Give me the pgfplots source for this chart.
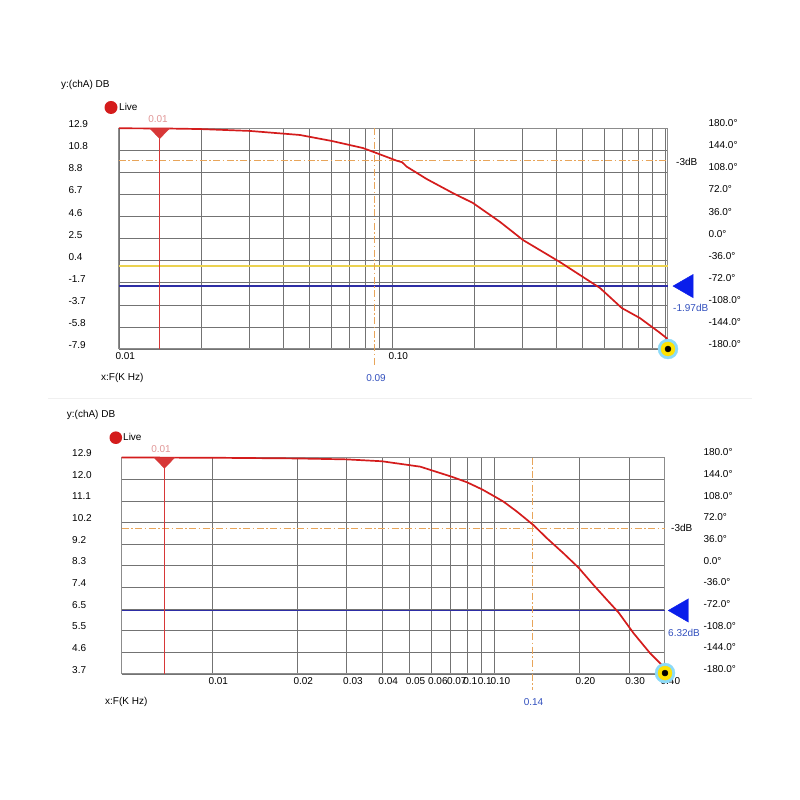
\documentclass[border=0pt]{standalone}
\usepackage{fontspec}
\setmainfont{Liberation Sans}
\usepackage{pgfplots}
\pgfplotsset{compat=1.18}
\definecolor{curvered}{RGB}{212,28,28}
\definecolor{markred}{RGB}{215,55,55}
\definecolor{dashorange}{RGB}{232,165,90}
\definecolor{lineyellow}{RGB}{235,210,80}
\definecolor{lineblue}{RGB}{45,45,165}
\definecolor{triblue}{RGB}{10,30,235}
\definecolor{textblue}{RGB}{50,80,190}
\definecolor{pinklab}{RGB}{225,150,150}
\definecolor{gridgray}{RGB}{115,115,115}
\newcommand\lbl{\fontsize{10}{12}\selectfont}
\begin{document}
\begin{tikzpicture}[font=\lbl]
\useasboundingbox (0pt,0pt) rectangle (800pt,800pt);
\fill[white] (0pt,0pt) rectangle (800pt,800pt);
\draw[black!6, line width=1pt] (48pt,401pt) -- (752pt,401pt);

% ---------------- TOP CHART ----------------
\begin{axis}[xmode=log, scale only axis, clip=false,
  at={(119pt,451pt)}, anchor=south west, width=549pt, height=220.7pt,
  grid=both, major grid style={gridgray, line width=0.6pt},
  minor grid style={gridgray, line width=0.6pt},
  major tick length=0pt, minor tick length=0pt,
  axis line style={draw=black!45, line width=1pt},
  tick label style={font=\lbl},
  xticklabel style={anchor=north west, xshift=-7pt},
  xmin=0.01, xmax=1.026, ymin=-7.9, ymax=12.9,
  xtick={0.01,0.1}, xticklabels={0.01,0.10},
  minor xtick={0.02,0.03,0.04,0.05,0.06,0.07,0.08,0.09,0.2,0.3,0.4,0.5,0.6,0.7,0.8,0.9,1},
  ytick={-7.9,-5.82,-3.74,-1.66,0.42,2.5,4.58,6.66,8.74,10.82,12.9},
  yticklabels={-7.9,-5.8,-3.7,-1.7,0.4,2.5,4.6,6.7,8.8,10.8,12.9},
  yticklabel style={anchor=west, xshift=-54pt, yshift=4pt},
]
\addplot[lineyellow, line width=1.6pt] coordinates {(0.01,-0.07) (1.026,-0.07)};
\addplot[lineblue, line width=1.2pt] coordinates {(0.01,-1.97) (1.026,-1.97)};
\addplot[dashorange, line width=0.9pt, dash pattern=on 7pt off 2.5pt on 1.5pt off 2.5pt] coordinates {(0.01,9.9) (1.026,9.9)};
\addplot[dashorange, line width=0.9pt, dash pattern=on 7pt off 2.5pt on 1.5pt off 2.5pt] coordinates {(0.0859,12.9) (0.0859,-9.4)};
\addplot[markred, line width=1pt] coordinates {(0.0141,12.9) (0.0141,-7.9)};
\addplot[curvered, line width=1.7pt] coordinates {
(0.01,12.9) (0.015,12.88) (0.0198,12.83) (0.0302,12.65) (0.046,12.27) (0.0603,11.70)
(0.0783,11.04) (0.0881,10.55) (0.104,9.85) (0.109,9.7) (0.113,9.3) (0.134,8.12) (0.167,6.80)
(0.198,5.86) (0.249,4.07) (0.302,2.37) (0.412,0.30) (0.578,-2.15) (0.695,-4.04)
(0.809,-4.98) (0.95,-6.3) (1.017,-6.9) (1.026,-7.6)};
\addplot[only marks, mark=triangle*, color=markred, mark size=11.5pt, mark options={yscale=0.6, rotate=180}] coordinates {(0.0141,12.575)};
\addplot[only marks, mark=triangle*, color=triblue, mark size=13.5pt, mark options={rotate=90}] coordinates {(1.199,-1.97)};
\addplot[only marks, mark=*, mark size=10pt, color=cyan!45] coordinates {(1.026,-7.9)};
\addplot[only marks, mark=*, mark size=7pt, color=yellow!85!orange] coordinates {(1.026,-7.9)};
\addplot[only marks, mark=*, mark size=3pt, color=black] coordinates {(1.026,-7.9)};
\end{axis}
\begin{axis}[xmode=log, scale only axis, at={(119pt,451pt)}, anchor=south west, width=549pt, height=220.7pt,
  xmin=0.01, xmax=1.026, ymin=-180, ymax=180,
  axis x line=none, axis y line*=right, axis line style={draw=none},
  ytick={-180,-144,-108,-72,-36,0,36,72,108,144,180},
  yticklabels={-180.0°,-144.0°,-108.0°,-72.0°,-36.0°,0.0°,36.0°,72.0°,108.0°,144.0°,180.0°},
  major tick length=0pt, tick label style={font=\lbl},
  yticklabel style={anchor=west, xshift=37pt, yshift=5pt}]
\addplot[draw=none] coordinates {(0.1,0)};
\end{axis}

% ---------------- BOTTOM CHART ----------------
\begin{axis}[xmode=log, scale only axis, clip=false,
  at={(121.7pt,126pt)}, anchor=south west, width=543.3pt, height=216.5pt,
  grid=both, major grid style={gridgray, line width=0.6pt},
  minor grid style={gridgray, line width=0.6pt},
  major tick length=0pt, minor tick length=0pt,
  axis line style={draw=black!45, line width=1pt},
  tick label style={font=\lbl},
  xticklabel style={anchor=north west, xshift=-7pt},
  xmin=0.004783, xmax=0.403, ymin=3.7, ymax=12.9,
  xtick={0.01,0.02,0.03,0.04,0.05,0.06,0.07,0.08,0.09,0.1,0.2,0.3,0.4},
  xticklabels={0.01,0.02,0.03,0.04,0.05,0.06,0.07,0.1,0.1,0.10,0.20,0.30,0.40},
  minor xtick={},
  ytick={3.7,4.62,5.54,6.46,7.38,8.3,9.22,10.14,11.06,11.98,12.9},
  yticklabels={3.7,4.6,5.5,6.5,7.4,8.3,9.2,10.2,11.1,12.0,12.9},
  yticklabel style={anchor=west, xshift=-53pt, yshift=4.4pt},
]
\addplot[lineblue, line width=1.4pt] coordinates {(0.004783,6.40) (0.403,6.40)};
\addplot[dashorange, line width=0.9pt, dash pattern=on 7pt off 2.5pt on 1.5pt off 2.5pt] coordinates {(0.004783,9.9) (0.403,9.9)};
\addplot[dashorange, line width=0.9pt, dash pattern=on 7pt off 2.5pt on 1.5pt off 2.5pt] coordinates {(0.1364,12.9) (0.1364,3.0)};
\addplot[markred, line width=1pt] coordinates {(0.00678,12.9) (0.00678,3.7)};
\addplot[curvered, line width=1.7pt] coordinates {
(0.004783,12.9) (0.01,12.89) (0.02,12.86) (0.03,12.82) (0.04,12.74) (0.0547,12.51)
(0.0708,12.08) (0.080,11.85) (0.0904,11.55) (0.1008,11.23) (0.108,11.02) (0.1204,10.60)
(0.1377,10.03) (0.1537,9.47) (0.176,8.83) (0.199,8.22) (0.225,7.48) (0.251,6.85)
(0.276,6.31) (0.312,5.43) (0.357,4.58) (0.393,4.08) (0.403,3.8)};
\addplot[only marks, mark=triangle*, color=markred, mark size=12pt, mark options={yscale=0.6, rotate=180}] coordinates {(0.00678,12.747)};
\addplot[only marks, mark=triangle*, color=triblue, mark size=13.5pt, mark options={rotate=90}] coordinates {(0.462,6.40)};
\addplot[only marks, mark=*, mark size=10pt, color=cyan!45] coordinates {(0.403,3.74)};
\addplot[only marks, mark=*, mark size=7pt, color=yellow!85!orange] coordinates {(0.403,3.74)};
\addplot[only marks, mark=*, mark size=3pt, color=black] coordinates {(0.403,3.74)};
\end{axis}
\begin{axis}[xmode=log, scale only axis, at={(121.7pt,126pt)}, anchor=south west, width=543.3pt, height=216.5pt,
  xmin=0.004783, xmax=0.403, ymin=-180, ymax=180,
  axis x line=none, axis y line*=right, axis line style={draw=none},
  ytick={-180,-144,-108,-72,-36,0,36,72,108,144,180},
  yticklabels={-180.0°,-144.0°,-108.0°,-72.0°,-36.0°,0.0°,36.0°,72.0°,108.0°,144.0°,180.0°},
  major tick length=0pt, tick label style={font=\lbl},
  yticklabel style={anchor=west, xshift=35pt, yshift=5pt}]
\addplot[draw=none] coordinates {(0.1,0)};
\end{axis}

% ---------------- TEXT ----------------
\fill[curvered] (111pt,692.5pt) circle (6.5pt);
\fill[curvered] (115.8pt,362.3pt) circle (6.3pt);
\begin{scope}[every node/.style={inner sep=0pt, font=\lbl}]
\node[anchor=west] at (119pt,693pt) {Live};
\node[anchor=west] at (123pt,363pt) {Live};
\node[anchor=west] at (61pt,715pt) {y:(chA) DB};
\node[pinklab] at (158pt,680.7pt) {0.01};
\node[anchor=west] at (676pt,638.3pt) {-3dB};
\node[anchor=west, textblue] at (673pt,492pt) {-1.97dB};
\node[textblue] at (376pt,421.7pt) {0.09};
\node[anchor=west] at (101pt,422.3pt) {x:F(K Hz)};
\node[anchor=west] at (66.7pt,385pt) {y:(chA) DB};
\node[pinklab] at (161pt,351pt) {0.01};
\node[anchor=west] at (671pt,272pt) {-3dB};
\node[anchor=west, textblue] at (668pt,167pt) {6.32dB};
\node[textblue] at (533.5pt,98.3pt) {0.14};
\node[anchor=west] at (105pt,98.3pt) {x:F(K Hz)};
\end{scope}
\end{tikzpicture}
\end{document}
